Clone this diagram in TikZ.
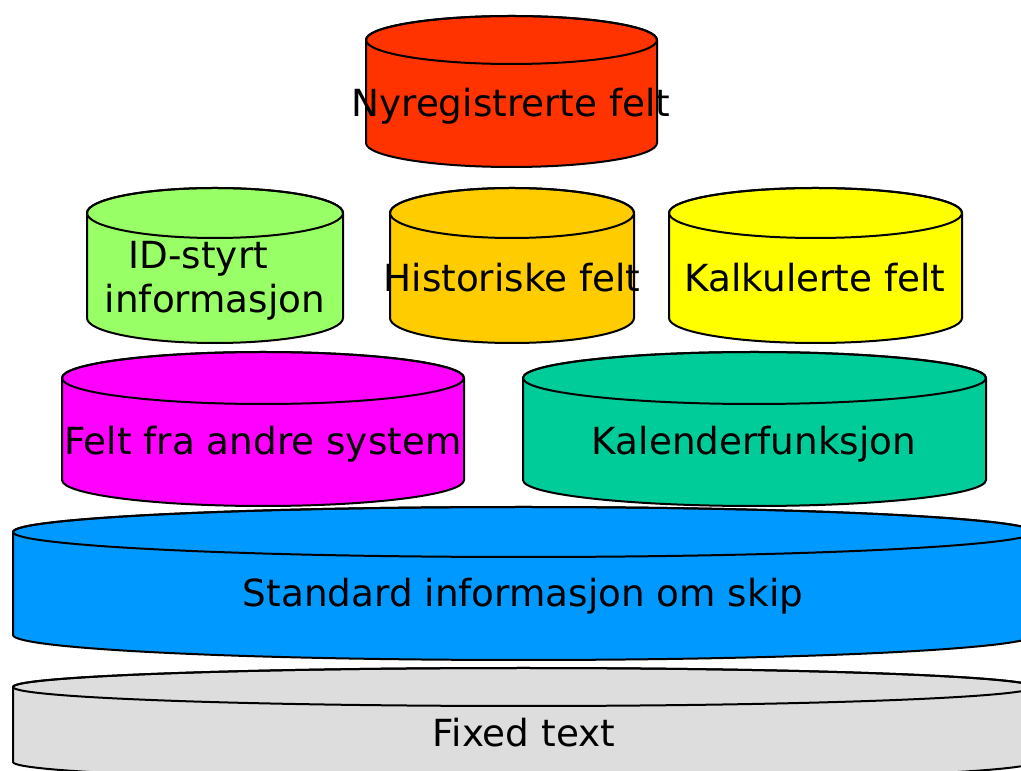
\documentclass[tikz,border=0pt]{standalone}
\usepackage{fontspec}
\setmainfont{DejaVu Sans}
\usepackage{tikz}
\definecolor{redfelt}{HTML}{FF3300}
\definecolor{greenid}{HTML}{99FF66}
\definecolor{orangehist}{HTML}{FFCC00}
\definecolor{yellowkalk}{HTML}{FFFF00}
\definecolor{magentasys}{HTML}{FF00FF}
\definecolor{tealkal}{HTML}{00CC99}
\definecolor{bluestd}{HTML}{0099FF}
\definecolor{greyfix}{HTML}{DDDDDD}
\tikzset{
  drumline/.style={draw=black, line width=1.5pt, line join=round},
  lab/.style={text=black, inner sep=0pt, align=center, anchor=base,
    font=\fontsize{28}{33}\selectfont}
}
% #1 fill, #2 left x, #3 right x, #4 top y, #5 bottom y, #6 ellipse radius
\newcommand{\drum}[6]{%
  \pgfmathsetmacro\drx{(#3-#2)/2}
  \pgfmathsetmacro\drmid{(#3+#2)/2}
  \filldraw[drumline, fill=#1] (#2,#4) -- (#2,#5)
    arc[start angle=180, end angle=360, x radius=\drx, y radius=#6]
    -- (#3,#4)
    arc[start angle=0, end angle=180, x radius=\drx, y radius=#6] -- cycle;
  \draw[drumline] (\drmid,#4) ellipse[x radius=\drx, y radius=#6];
}

\begin{document}
\begin{tikzpicture}[x=0.75pt, y=0.75pt]
  \useasboundingbox (0,0) rectangle (1021,771);
  \clip (0,0) rectangle (1021,771);

  % bottom layers
  \drum{greyfix}{13}{1034}{84}{9}{19}
  \drum{bluestd}{13}{1034}{239}{136}{25}

  % middle layers
  \drum{magentasys}{62}{464}{393}{291}{26}
  \drum{tealkal}{523}{986}{393}{291}{26}

  \drum{greenid}{87}{343}{558}{453}{25}
  \drum{orangehist}{390}{634}{558}{453}{25}
  \drum{yellowkalk}{669}{962}{558}{453}{25}

  % top
  \drum{redfelt}{366}{657}{731}{628}{24}

  \node[lab] (fixed) at (524,24) {Fixed text};
  \node[lab] (std) at (523,164) {Standard informasjon om skip};
  \node[lab] (andre) at (263,316) {Felt fra andre system};
  \node[lab] (kalender) at (754,316) {Kalenderfunksjon};
  \node[lab] (idstyrt) at (215,458) {ID-styrt\hspace*{25pt}\\informasjon};
  \node[lab] (hist) at (512,479) {Historiske felt};
  \node[lab] (kalk) at (815,479) {Kalkulerte felt};
  \node[lab] (nyreg) at (511,654) {Nyregistrerte felt};
\end{tikzpicture}
\end{document}
